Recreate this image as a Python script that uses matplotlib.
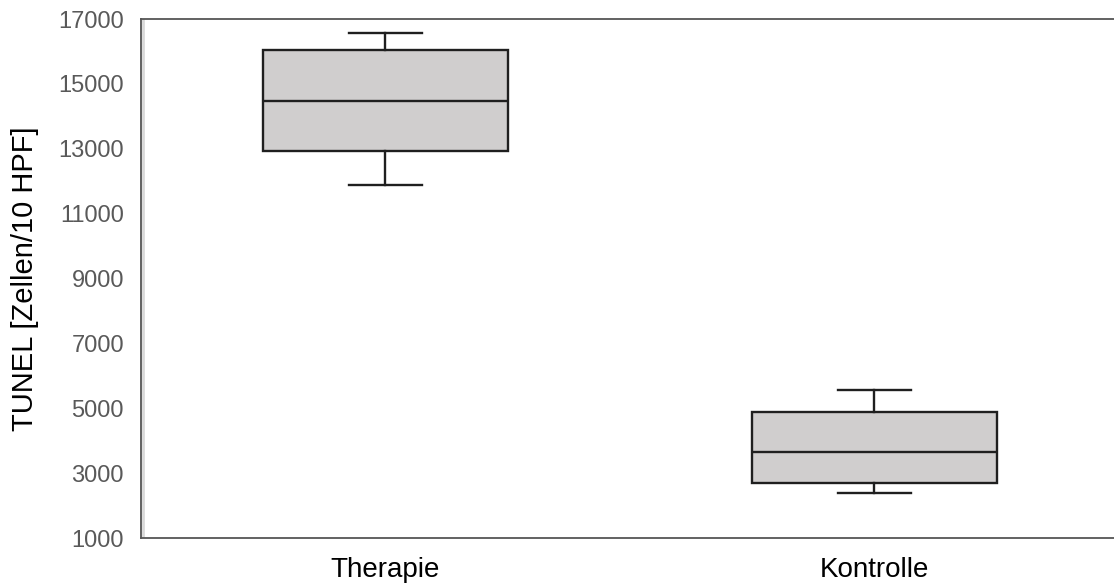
import matplotlib.pyplot as plt

plt.rcParams['font.family'] = ['Liberation Sans', 'DejaVu Sans']

# --- Box statistics per group ---
groups = ['Therapie', 'Kontrolle']
whisker_low = [11870, 2380]
q1 = [12940, 2690]
median = [14470, 3650]
q3 = [16040, 4900]
whisker_high = [16560, 5560]

y_ticks = [1000, 3000, 5000, 7000, 9000, 11000, 13000, 15000, 17000]

stats = []
for i, name in enumerate(groups):
    stats.append({
        'label': name,
        'whislo': whisker_low[i],
        'q1': q1[i],
        'med': median[i],
        'q3': q3[i],
        'whishi': whisker_high[i],
        'fliers': [],
    })

fig = plt.figure(figsize=(11.14, 5.88), dpi=100)
ax = fig.add_axes([0.1263, 0.085, 0.8737, 0.8826])

line_col = '#1f1f1f'
ax.bxp(stats, positions=[1, 2], widths=0.5, patch_artist=True, showfliers=False,
       boxprops=dict(facecolor='#d0cece', edgecolor=line_col, linewidth=1.7),
       medianprops=dict(color=line_col, linewidth=1.7),
       whiskerprops=dict(color=line_col, linewidth=1.7),
       capprops=dict(color=line_col, linewidth=1.7),
       capwidths=0.15)

ax.set_xlim(0.5, 2.49)
ax.set_ylim(1000, 17000)
ax.set_yticks(y_ticks)
ax.set_yticklabels([str(v) for v in y_ticks], fontsize=17, color='#595959')
ax.set_xticks([1, 2])
ax.set_xticklabels(groups, fontsize=20, color='black')
ax.tick_params(axis='both', length=0)
ax.tick_params(axis='y', pad=12)
ax.tick_params(axis='x', pad=14)

for side in ['left', 'top', 'bottom']:
    ax.spines[side].set_color('#555555')
    ax.spines[side].set_linewidth(1.3)
ax.spines['right'].set_visible(False)

# light inner edge along the left axis line
ax.axvline(0.5045, color='#d9d9d9', linewidth=2.0)

fig.text(0.022, 0.526, 'TUNEL [Zellen/10 HPF]', rotation=90, fontsize=21,
         ha='center', va='center')

fig.savefig('out.png', dpi=100)
